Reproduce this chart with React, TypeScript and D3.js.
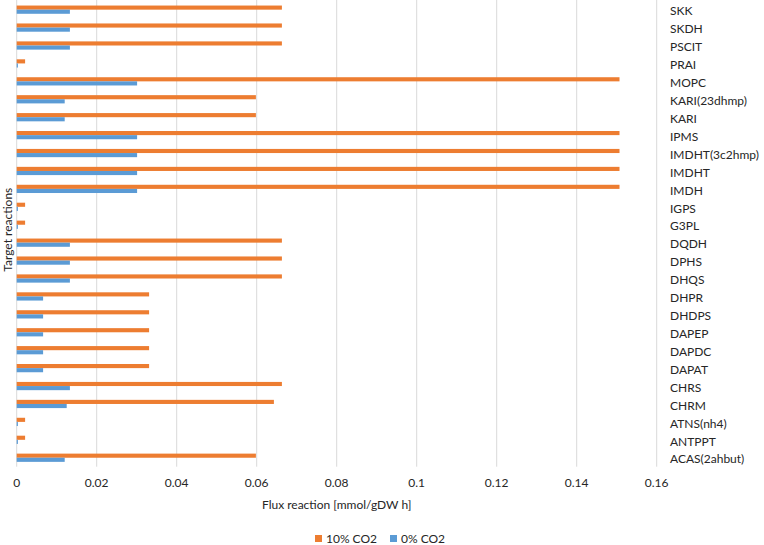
import React from "react";
import * as d3 from "d3";

const categories = [
  "SKK", "SKDH", "PSCIT", "PRAI", "MOPC", "KARI(23dhmp)", "KARI", "IPMS",
  "IMDHT(3c2hmp)", "IMDHT", "IMDH", "IGPS", "G3PL", "DQDH", "DPHS", "DHQS",
  "DHPR", "DHDPS", "DAPEP", "DAPDC", "DAPAT", "CHRS", "CHRM", "ATNS(nh4)",
  "ANTPPT", "ACAS(2ahbut)",
];
const co2_10 = [
  0.0663, 0.0663, 0.0663, 0.0021, 0.1507, 0.0598, 0.0598, 0.1507,
  0.1507, 0.1507, 0.1507, 0.0021, 0.0021, 0.0663, 0.0663, 0.0663,
  0.0331, 0.0331, 0.0331, 0.0331, 0.0331, 0.0663, 0.0643, 0.0021,
  0.0021, 0.0598,
];
const co2_0 = [
  0.0133, 0.0133, 0.0133, 0.0003, 0.0301, 0.012, 0.012, 0.0301,
  0.0301, 0.0301, 0.0301, 0.0003, 0.0003, 0.0133, 0.0133, 0.0133,
  0.0066, 0.0066, 0.0066, 0.0066, 0.0066, 0.0133, 0.0125, 0.0003,
  0.0003, 0.012,
];
const xTicks = [0, 0.02, 0.04, 0.06, 0.08, 0.1, 0.12, 0.14, 0.16];
const seriesNames = ["10% CO2", "0% CO2"];
const seriesColors = ["#ED7D31", "#5B9BD5"];

const W = 764;
const H = 545;
const left = 16.7;
const right = 656.7;
const top = 0.7;
const bottom = 466.7;
const FONT = "Lato, 'Open Sans', sans-serif";

export default function App() {
  const x = d3.scaleLinear().domain([0, 0.16]).range([left, right]);
  const y = d3
    .scaleBand<string>()
    .domain(categories)
    .range([top, bottom])
    .paddingInner(0.54)
    .paddingOuter(0.27);
  const sub = d3
    .scaleBand<string>()
    .domain(seriesNames)
    .range([0, y.bandwidth()]);
  const series = [co2_10, co2_0];

  return (
    <svg
      width={W}
      height={H}
      style={{ position: "absolute", left: 0, top: 0, background: "#fff" }}
      fontFamily={FONT}
    >
      {xTicks.map((t) => (
        <line
          key={"g" + t}
          x1={x(t)}
          x2={x(t)}
          y1={0}
          y2={bottom}
          stroke="#d9d9d9"
          strokeWidth={1}
        />
      ))}
      {categories.map((c, i) =>
        series.map((vals, s) => (
          <rect
            key={c + s}
            x={x(0)}
            y={(y(c) as number) + (sub(seriesNames[s]) as number)}
            width={x(vals[i]) - x(0)}
            height={sub.bandwidth()}
            fill={seriesColors[s]}
          />
        ))
      )}
      {categories.map((c) => (
        <text
          key={"l" + c}
          x={670}
          y={(y(c) as number) + y.bandwidth() / 2 + 1.5}
          dy="0.35em"
          fontSize={12}
          fill="#262626"
        >
          {c}
        </text>
      ))}
      {xTicks.map((t) => (
        <text
          key={"t" + t}
          x={x(t)}
          y={483}
          dy="0.35em"
          textAnchor="middle"
          fontSize={12}
          fill="#262626"
        >
          {String(t)}
        </text>
      ))}
      <text
        x={(left + right) / 2}
        y={505}
        dy="0.35em"
        textAnchor="middle"
        fontSize={12}
        fill="#262626"
      >
        Flux reaction [mmol/gDW h]
      </text>
      <text
        transform={`translate(8,${(top + bottom) / 2 - 4}) rotate(-90)`}
        textAnchor="middle"
        dy="0.35em"
        fontSize={12}
        fill="#262626"
      >
        Target reactions
      </text>
      {seriesNames.map((n, i) => {
        const lx = i === 0 ? 315 : 390;
        return (
          <g key={n}>
            <rect x={lx} y={535} width={7} height={7} fill={seriesColors[i]} />
            <text x={lx + 11} y={539} dy="0.35em" fontSize={12} fill="#262626">
              {n}
            </text>
          </g>
        );
      })}
    </svg>
  );
}
